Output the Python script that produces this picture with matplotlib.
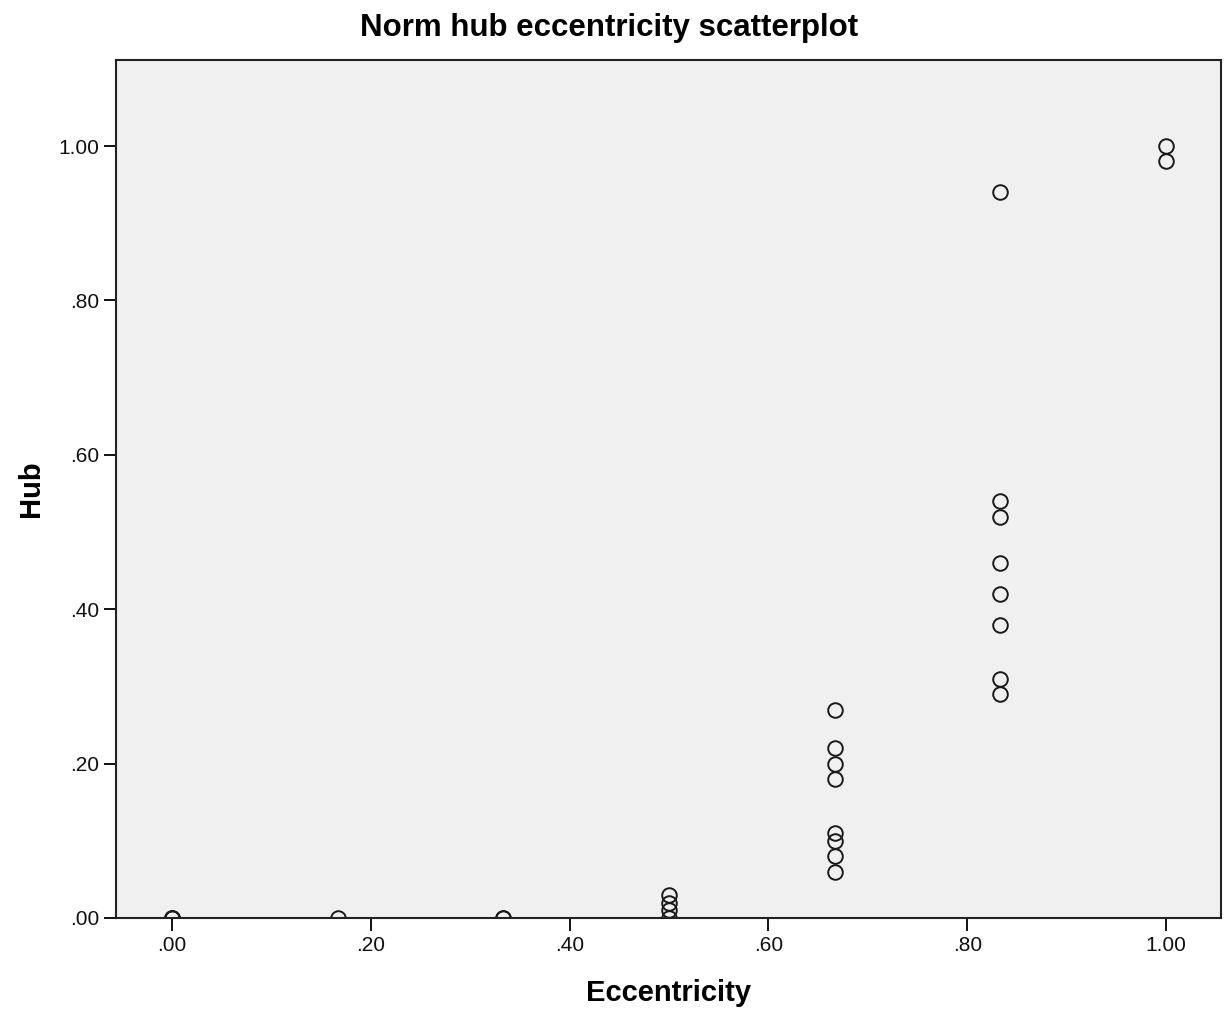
import matplotlib
matplotlib.use("Agg")
import matplotlib.pyplot as plt

plt.rcParams['font.family'] = ['Liberation Sans', 'DejaVu Sans']

# Eccentricity (x) and normalised hub score (y) per node
eccentricity = [0.0, 0.0, 0.0,
                1/6,
                1/3, 1/3,
                0.5, 0.5, 0.5, 0.5,
                2/3, 2/3, 2/3, 2/3, 2/3, 2/3, 2/3, 2/3,
                5/6, 5/6, 5/6, 5/6, 5/6, 5/6, 5/6, 5/6,
                1.0, 1.0]
hub = [0.0, 0.0, 0.0,
       0.0,
       0.0, 0.0,
       0.03, 0.02, 0.01, 0.0,
       0.27, 0.22, 0.20, 0.18, 0.11, 0.10, 0.08, 0.06,
       0.94, 0.54, 0.52, 0.46, 0.42, 0.38, 0.31, 0.29,
       1.00, 0.98]

x_ticks = [0.0, 0.2, 0.4, 0.6, 0.8, 1.0]
x_tick_labels = [".00", ".20", ".40", ".60", ".80", "1.00"]
y_ticks = [0.0, 0.2, 0.4, 0.6, 0.8, 1.0]
y_tick_labels = [".00", ".20", ".40", ".60", ".80", "1.00"]

fig = plt.figure(figsize=(12.29, 10.14), dpi=100)
ax = fig.add_axes([0.0944, 0.0947, 0.8991, 0.8461])
ax.set_facecolor('#f0f0f0')

ax.plot(eccentricity, hub, linestyle='none', marker='o', markersize=10.5,
        markerfacecolor='none', markeredgecolor='#1a1a1a', markeredgewidth=1.4)

ax.set_xlim(-0.0563, 1.0553)
ax.set_ylim(0.0, 1.1114)

ax.set_xticks(x_ticks)
ax.set_xticklabels(x_tick_labels)
ax.set_yticks(y_ticks)
ax.set_yticklabels(y_tick_labels)
ax.tick_params(axis='both', direction='out', length=9, width=1.4,
               labelsize=15, pad=3, colors='#111111')
ax.tick_params(axis='x', pad=4)
for side in ['left', 'right', 'top', 'bottom']:
    ax.spines[side].set_linewidth(1.5)
    ax.spines[side].set_color('#222222')

ax.set_xlabel("Eccentricity", fontsize=21, fontweight='bold', labelpad=17)
ax.set_ylabel("Hub", fontsize=21, fontweight='bold', labelpad=10)
fig.text(0.4955, 0.972, "Norm hub eccentricity scatterplot", ha='center',
         va='center', fontsize=22.5, fontweight='bold')

fig.savefig("out.png", dpi=100)
